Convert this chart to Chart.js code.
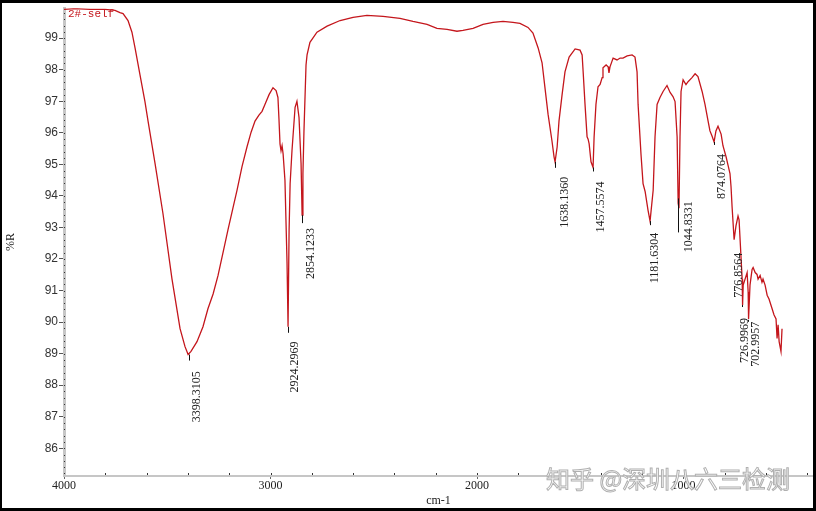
<!DOCTYPE html>
<html><head><meta charset="utf-8">
<script src="https://cdn.jsdelivr.net/npm/chart.js@4/dist/chart.umd.min.js"></script>
<style>html,body{margin:0;padding:0;background:#fff}#wrap{width:816px;height:511px;position:relative}</style>
</head><body><div id="wrap"><canvas id="c" width="816" height="511"></canvas></div>
<script>
const seriesName = '2#-self';
const wavenumbers = [4000,3947,3874,3801,3753,3729,3714,3690,3671,3656,3632,3608,3593,3559,3521,3477,3438,3414,3399,3385,3356,3327,3303,3278,3254,3230,3206,3182,3162,3138,3114,3094,3075,3056,3041,3027,3007,2988,2973,2964,2959,2954,2949,2944,2939,2930,2920,2915,2910,2905,2896,2881,2872,2862,2852,2847,2843,2838,2828,2823,2809,2775,2726,2663,2600,2533,2455,2373,2310,2242,2194,2145,2097,2068,2019,1971,1922,1874,1826,1792,1753,1729,1704,1685,1671,1656,1637,1627,1622,1612,1603,1588,1574,1554,1525,1501,1491,1486,1477,1467,1462,1457,1448,1438,1433,1424,1414,1404,1394,1390,1375,1365,1361,1356,1341,1322,1307,1293,1273,1249,1235,1225,1220,1206,1196,1186,1172,1162,1147,1138,1128,1114,1099,1080,1065,1051,1041,1031,1026,1022,1017,1012,1002,988,978,959,944,930,910,896,881,872,862,852,843,833,818,809,794,784,775,770,765,760,755,746,736,731,726,721,716,714,711,702,692,687,685,678,668,663,653,644,639,629,620,615,605,595,586,571,562,552,547,542,537,528,523];
const transmittance = [99.91,99.94,99.91,99.91,99.88,99.81,99.78,99.56,99.19,98.69,97.84,96.99,96.37,95.02,93.45,91.36,89.79,89.22,88.97,89.07,89.38,89.85,90.42,90.89,91.48,92.20,92.92,93.61,94.18,94.93,95.55,96.02,96.37,96.56,96.68,96.90,97.21,97.43,97.34,97.12,96.43,95.65,95.43,95.59,95.33,94.49,91.89,89.85,92.92,94.39,95.43,96.81,97.00,96.49,95.02,93.39,94.71,96.05,98.15,98.47,98.87,99.19,99.38,99.56,99.66,99.72,99.69,99.63,99.53,99.44,99.31,99.28,99.22,99.25,99.31,99.44,99.50,99.53,99.50,99.47,99.34,99.16,98.69,98.22,97.43,96.59,95.74,95.24,95.08,95.55,96.37,97.21,97.93,98.40,98.66,98.62,98.47,97.93,96.90,95.87,95.80,95.65,95.08,94.90,95.87,96.90,97.46,97.53,97.75,98.06,98.15,98.09,97.90,98.09,98.37,98.31,98.37,98.37,98.44,98.47,98.40,97.93,96.90,95.33,94.39,94.14,93.55,93.20,94.18,95.87,96.90,97.12,97.31,97.50,97.28,97.15,96.99,95.87,93.77,93.61,95.87,97.31,97.68,97.53,97.62,97.75,97.87,97.78,97.31,96.90,96.37,96.06,95.90,95.71,96.06,96.21,95.96,95.59,95.24,94.96,94.71,94.30,93.67,93.14,92.61,93.05,93.36,93.24,92.61,91.98,91.36,90.54,91.17,91.36,91.57,90.95,90.10,91.17,91.67,91.73,91.57,91.51,91.36,91.48,91.26,91.36,91.17,90.85,90.73,90.42,90.23,90.10,89.48,89.91,89.38,89.07,89.79];
const xTickValues = [4000,3000,2000,1000];
const yTickValues = [86,87,88,89,90,91,92,93,94,95,96,97,98,99];
const peakLabels = ['3398.3105','2924.2969','2854.1233','1638.1360','1457.5574','1181.6304','1044.8331','874.0764','776.8564','726.9969','702.9957'];
const peakMarkWn = [3395,2915,2847,1622,1438,1162,1026,852,716,687,null];
const peakMarkT = [88.97,89.85,93.39,95.08,94.90,93.20,93.92,95.71,90.54,90.07,null];
const labelWn = [3356,2881,2804,1574,1399,1138,973,813,731,702,649];
const labelTopT = [88.44,89.38,92.98,94.61,94.46,92.83,93.83,95.33,92.20,90.13,90.01];
const watermark = '知乎 @深圳八六三检测';

const markLen = [6,6,8,6,4,4,34,3,2,2,0];

const overlay = {
  id:'overlay',
  afterDatasetsDraw(chart){
    const ctx = chart.ctx, xs = chart.scales.x, ys = chart.scales.y, ca = chart.chartArea;
    ctx.save();
    ctx.fillStyle = '#333';
    for (let v = 85.2; v < 99.95; v += 0.2) { const py = Math.round(ys.getPixelForValue(v)); ctx.fillRect(ca.left, py, 1, 1); }
    for (let w = 3800; w > 380; w -= 200) { const px = Math.round(xs.getPixelForValue(w)); ctx.fillRect(px, ca.bottom-3, 1, 2); }
    ctx.strokeStyle = '#111'; ctx.lineWidth = 1;
    peakMarkWn.forEach((w,i)=>{
      if (w === null || !markLen[i]) return;
      const px = Math.round(xs.getPixelForValue(w))+0.5, py = ys.getPixelForValue(peakMarkT[i]);
      ctx.beginPath(); ctx.moveTo(px, py); ctx.lineTo(px, py+markLen[i]); ctx.stroke();
    });
    ctx.fillStyle = '#222'; ctx.font = '12px "Liberation Serif"';
    ctx.textAlign = 'right'; ctx.textBaseline = 'middle';
    peakLabels.forEach((t,i)=>{
      const px = xs.getPixelForValue(labelWn[i]), py = ys.getPixelForValue(labelTopT[i]);
      ctx.save(); ctx.translate(px, py); ctx.rotate(-Math.PI/2); ctx.fillText(t, 0, 0); ctx.restore();
    });
    ctx.fillStyle = '#c4161c'; ctx.font = '11px "Liberation Mono"';
    ctx.textAlign = 'left'; ctx.textBaseline = 'alphabetic';
    ctx.fillText(seriesName, ca.left+4, 17);
    ctx.restore();
  },
  afterDraw(chart){
    const ctx = chart.ctx;
    ctx.save();
    ctx.font = '24px "Noto Sans CJK SC"';
    ctx.textAlign = 'left'; ctx.textBaseline = 'middle';
    ctx.fillStyle = 'rgba(255,255,255,0.9)';
    ctx.strokeStyle = '#b0b0b0'; ctx.lineWidth = 1;
    ctx.fillText(watermark, 546, 479);
    ctx.strokeText(watermark, 546, 479);
    ctx.fillStyle = '#000';
    ctx.fillRect(0,0,816,3); ctx.fillRect(813,0,3,511); ctx.fillRect(0,508,816,3); ctx.fillRect(0,0,2,511);
    ctx.restore();
  }
};

new Chart(document.getElementById('c'), {
  type:'line',
  data:{ datasets:[{ label:seriesName, data: wavenumbers.map((w,i)=>({x:w,y:transmittance[i]})), borderColor:'#c4161c', borderWidth:1.3, pointRadius:0, tension:0, fill:false }]},
  options:{
    responsive:false, animation:false, devicePixelRatio:1,
    layout:{ padding:{ top:3, right:3, left:0, bottom:0 } },
    plugins:{ legend:{display:false}, tooltip:{enabled:false} },
    scales:{
      x:{ type:'linear', reverse:true, min:373, max:4000,
        afterBuildTicks: s => { s.ticks = xTickValues.map(v=>({value:v})); },
        afterFit: s => { s.height = 35; },
        ticks:{ autoSkip:false, maxRotation:0, padding:0, color:'#222', font:{family:'"Liberation Serif"', size:12}, callback: v => String(v) },
        grid:{ drawOnChartArea:false, drawTicks:true, tickLength:3, color:'#666' },
        border:{ color:'#c6c6c6', width:2 },
        title:{ display:true, text:'cm-1', color:'#222', font:{family:'"Liberation Serif"', size:12}, padding:{top:0,bottom:3} }
      },
      y:{ type:'linear', min:85.12, max:99.95,
        afterBuildTicks: s => { s.ticks = yTickValues.map(v=>({value:v})); },
        afterFit: s => { s.width = 64; },
        ticks:{ padding:1, color:'#333', font:{family:'"Liberation Sans"', size:12}, callback: v => String(v) },
        grid:{ drawOnChartArea:false, drawTicks:true, tickLength:5, color:'#555' },
        border:{ color:'#c6c6c6', width:3 },
        title:{ display:true, text:'%R', color:'#222', font:{family:'"Liberation Serif"', size:12}, padding:{top:4,bottom:4} }
      }
    }
  },
  plugins:[overlay]
});
</script></body></html>
